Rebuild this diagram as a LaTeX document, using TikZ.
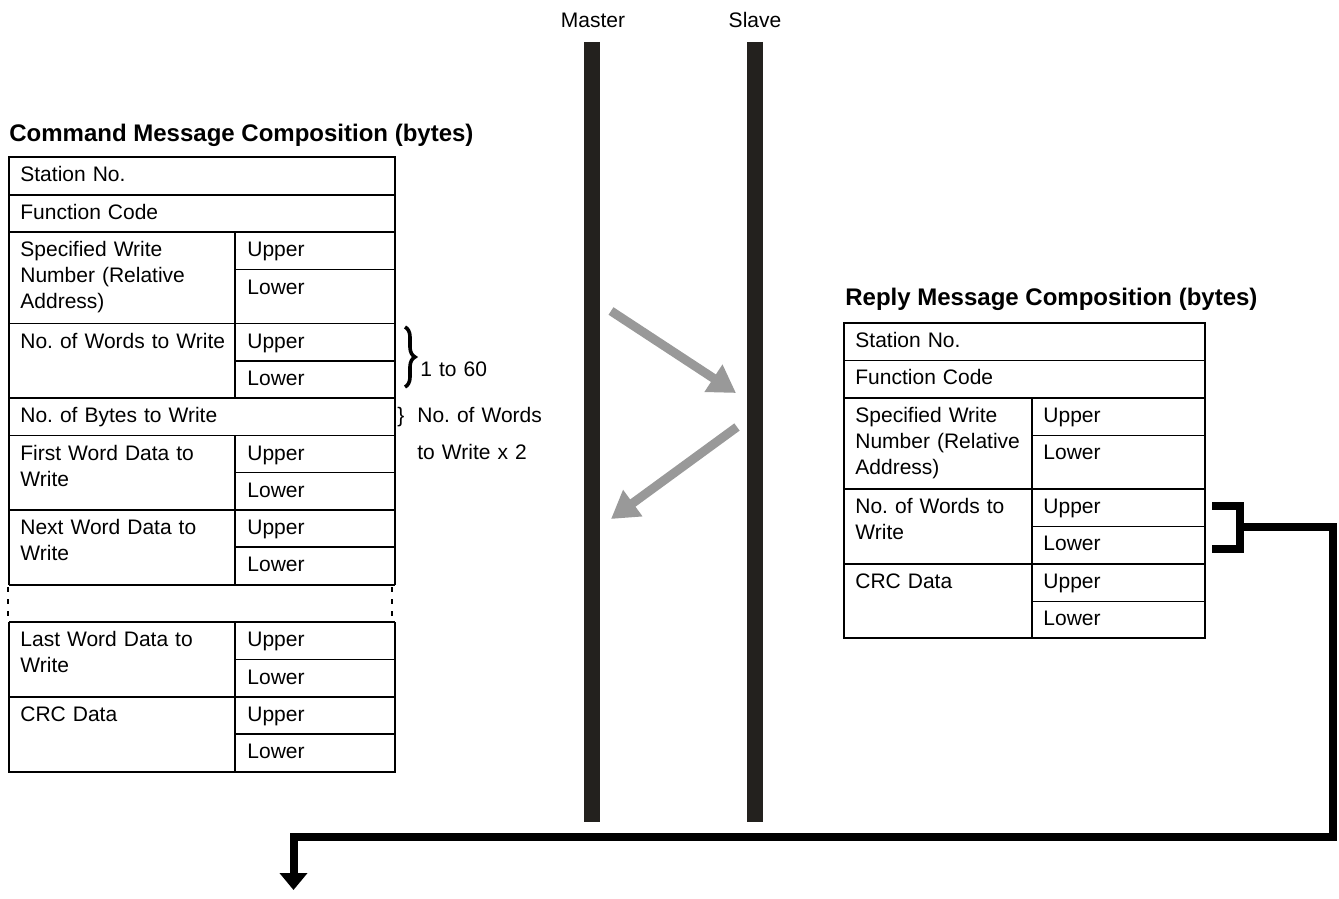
\documentclass[tikz,border=0pt]{standalone}
\usepackage{fontspec}
\setmainfont{Liberation Sans}
\frenchspacing
\usetikzlibrary{arrows.meta,decorations.pathreplacing}

\tikzset{
  cell/.style={anchor=base west, inner sep=0pt, font=\fontsize{10.5}{13}\selectfont, align=left, text width=110pt},
  lbl/.style={anchor=base, inner sep=0pt, font=\fontsize{10.5}{13}\selectfont},
  ttl/.style={anchor=base west, inner sep=0pt, font=\fontsize{12}{14}\selectfont\bfseries},
  tblout/.style={line width=1pt},
  tblin/.style={line width=0.6pt},
  mbar/.style={line width=8pt, color={rgb, 255:red, 35; green, 33; blue, 30}},
  flow/.style={line width=4.5pt, color={rgb, 255:red, 153; green, 153; blue, 153}, -{Triangle[length=13.5pt,width=15.5pt]}},
  link/.style={line width=4pt, line join=miter},
}

\begin{document}
\begin{tikzpicture}[x=0.5pt,y=0.5pt,yscale=-1,xscale=1]
\useasboundingbox (0,0) rectangle (1339,899);

%Master and Slave lines
\draw [mbar] (592,42) -- (592,822) ;
\draw [mbar] (754.5,42) -- (754.5,822) ;
% Text Node
\draw (593,27.5) node [lbl] (master) {Master};
% Text Node
\draw (755,27.5) node [lbl] (slave) {Slave};

%Gray message arrows
\coordinate (cmdOut) at (611,311);
\coordinate (cmdIn) at (736,393);
\coordinate (repOut) at (737,427);
\coordinate (repIn) at (611,519);
\draw [flow] (cmdOut) -- (cmdIn) ;
\draw [flow] (repOut) -- (repIn) ;

%%%% Command message table
% Text Node
\draw (9,141.5) node [ttl] (cmdTitle) {Command Message Composition (bytes)};
%Shape: Rectangle (upper part)
\draw [tblout] (9,584.5) -- (9,157.5) -- (395,157.5) -- (395,584.5) ;
%Shape: Rectangle (lower part)
\draw [tblout] (9,622) -- (9,771.5) -- (395,771.5) -- (395,622) ;
%Straight Lines
\draw [tblout] (9,584.5) -- (395,584.5) ;
\draw [tblout] (9,622) -- (395,622) ;
%Dashed gap
\draw [line width=1pt, dash pattern={on 2.5pt off 3.5pt}] (8,587) -- (8,622) ;
\draw [line width=1pt, dash pattern={on 2.5pt off 3.5pt}] (392,587) -- (392,622) ;
%Straight Lines
\draw [tblin] (9,195) -- (395,195) ;
\draw [tblin] (9,232) -- (395,232) ;
\draw [tblin] (235,269.5) -- (395,269.5) ;
\draw [tblin] (9,323.5) -- (395,323.5) ;
\draw [tblin] (235,361) -- (395,361) ;
\draw [tblin] (9,398) -- (395,398) ;
\draw [tblin] (9,435.5) -- (395,435.5) ;
\draw [tblin] (235,472.5) -- (395,472.5) ;
\draw [tblin] (9,510) -- (395,510) ;
\draw [tblin] (235,547) -- (395,547) ;
\draw [tblin] (235,659.5) -- (395,659.5) ;
\draw [tblin] (9,697) -- (395,697) ;
\draw [tblin] (235,734) -- (395,734) ;
%Straight Lines
\draw [tblin] (235,232) -- (235,398) ;
\draw [tblin] (235,435.5) -- (235,584.5) ;
\draw [tblin] (235,622) -- (235,771.5) ;

% Text Node
\draw (20,182) node [cell] (cStation) {Station No.};
\draw (20,219.5) node [cell] (cFunc) {Function Code};
\draw (20,256.5) node [cell] (cSpec) {Specified Write\\Number (Relative\\Address)};
\draw (247,256.5) node [cell] (cSpecU) {Upper};
\draw (247,294) node [cell] (cSpecL) {Lower};
\draw (20,348) node [cell] (cWords) {No. of Words to Write};
\draw (247,348) node [cell] (cWordsU) {Upper};
\draw (247,385.5) node [cell] (cWordsL) {Lower};
\draw (20,422.5) node [cell] (cBytes) {No. of Bytes to Write};
\draw (20,460) node [cell] (cFirst) {First Word Data to\\Write};
\draw (247,460) node [cell] (cFirstU) {Upper};
\draw (247,497) node [cell] (cFirstL) {Lower};
\draw (20,534.5) node [cell] (cNext) {Next Word Data to\\Write};
\draw (247,534.5) node [cell] (cNextU) {Upper};
\draw (247,571.5) node [cell] (cNextL) {Lower};
\draw (20,646.5) node [cell] (cLast) {Last Word Data to\\Write};
\draw (247,646.5) node [cell] (cLastU) {Upper};
\draw (247,684) node [cell] (cLastL) {Lower};
\draw (20,721.5) node [cell] (cCrc) {CRC Data};
\draw (247,721.5) node [cell] (cCrcU) {Upper};
\draw (247,758.5) node [cell] (cCrcL) {Lower};

%Brace for words
\draw [decorate, decoration={brace, amplitude=5pt}, line width=1.8pt] (405,327) -- (405,387) ;
% Text Node
\draw (420,376.5) node [cell] (range) {1 to 60};
% Text Node
\draw (397,422.5) node [cell] (bBrace) {\}};
\draw (417,422.5) node [cell] (bytesNote) {No. of Words};
\draw (417,459.5) node [cell] (bytesNote2) {to Write x 2};

%%%% Reply message table
% Text Node
\draw (845,305.5) node [ttl] (repTitle) {Reply Message Composition (bytes)};
%Shape: Rectangle
\draw [tblout] (844,323) -- (1205,323) -- (1205,638) -- (844,638) -- cycle ;
%Straight Lines
\draw [tblin] (844,360.5) -- (1205,360.5) ;
\draw [tblin] (844,398) -- (1205,398) ;
\draw [tblin] (1032,435.5) -- (1205,435.5) ;
\draw [tblin] (844,489) -- (1205,489) ;
\draw [tblin] (1032,526.5) -- (1205,526.5) ;
\draw [tblin] (844,564) -- (1205,564) ;
\draw [tblin] (1032,601.5) -- (1205,601.5) ;
\draw [tblin] (1032,398) -- (1032,638) ;

% Text Node
\draw (855,347) node [cell] (rStation) {Station No.};
\draw (855,384.5) node [cell] (rFunc) {Function Code};
\draw (855,422) node [cell] (rSpec) {Specified Write\\Number (Relative\\Address)};
\draw (1043,422) node [cell] (rSpecU) {Upper};
\draw (1043,459.5) node [cell] (rSpecL) {Lower};
\draw (855,513) node [cell] (rWords) {No. of Words to\\Write};
\draw (1043,513) node [cell] (rWordsU) {Upper};
\draw (1043,550.5) node [cell] (rWordsL) {Lower};
\draw (855,588) node [cell] (rCrc) {CRC Data};
\draw (1043,588) node [cell] (rCrcU) {Upper};
\draw (1043,625.5) node [cell] (rCrcL) {Lower};

%Bracket and return line
\coordinate (bTop) at (1212,505.5);
\coordinate (bBot) at (1212,548.5);
\coordinate (bMid) at (1240,527);
\coordinate (back) at (1333,837);
\coordinate (next) at (293.5,890);
\draw [link] (bTop) -| (bMid) |- (bBot) ;
\draw [link, -{Triangle[length=8.5pt,width=13.5pt]}] (bMid) -| (back) -| (next) ;

\end{tikzpicture}
\end{document}
